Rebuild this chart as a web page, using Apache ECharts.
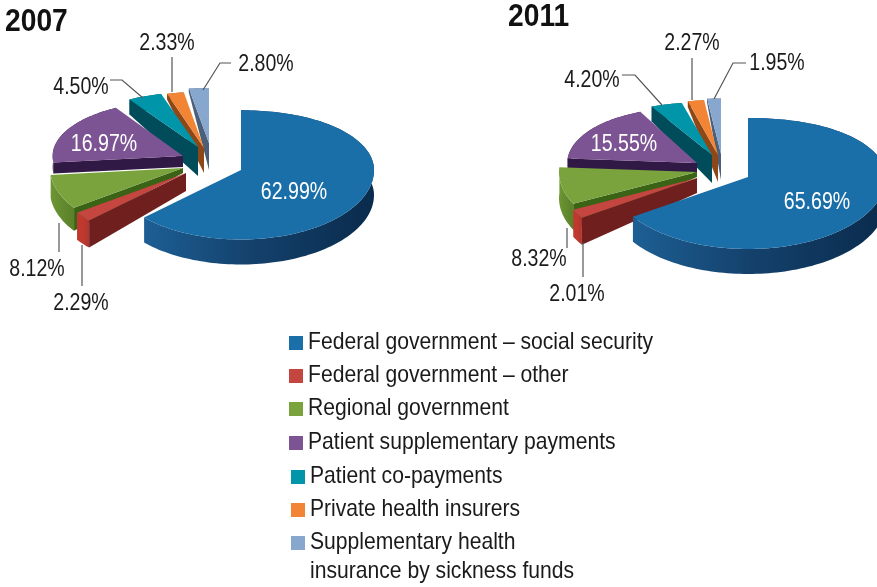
<!DOCTYPE html>
<html lang="en">
<head>
    <meta charset="UTF-8">
    <title>Health funding shares 2007 and 2011</title>
    <script src="https://cdn.jsdelivr.net/npm/echarts@6/dist/echarts.min.js"></script>
    <style>
        html, body { margin: 0; padding: 0; background: #fff; }
        #myChart { width: 877px; height: 587px; }
    </style>
</head>
<body>
    <div id="myChart"></div>
    <script>
        // values
        var categories = [
            'Federal government – social security',
            'Federal government – other',
            'Regional government',
            'Patient supplementary payments',
            'Patient co-payments',
            'Private health insurers',
            'Supplementary health\ninsurance by sickness funds'
        ];
        var shares2007 = [62.99, 2.29, 8.12, 16.97, 4.50, 2.33, 2.80];
        var shares2011 = [65.69, 2.01, 8.32, 15.55, 4.20, 2.27, 1.95];

        // colours per category
        var topColors = ['#1b6fa9', '#c54541', '#7aa33d', '#7c5493', '#0095a8', '#f28535', '#87a7cf'];
        var wallColors = ['#14426d', '#6e1f1e', '#3a6315', '#301a45', '#004c5a', '#8e4716', '#4c5f78'];
        var rimColors = [
            ['#1d5f94', '#14426d', '#0a2b4c'], ['#c0392f', '#c0392f', '#b03530'], ['#6d9633', '#648c2f', '#5a8029'],
            ['#321b47', '#321b47', '#321b47'], ['#006070', '#006070', '#006070'], ['#a35520', '#a35520', '#a35520'], ['#5d7395', '#5d7395', '#5d7395']
        ];

        // layout of each exploded pie (tips, wall heights, label spots, leader lines)
        var layout2007 = {
            rx: 133, ry: 69.5, k: 0.14,
            tips: [[241, 170], [186, 173], [183, 168], [183, 156], [198, 147], [204, 148], [209, 143]],
            scaleX: [1, 1, 1, 0.98, 1, 1, 1],
            scaleY: [1, 1, 1, 0.93, 0.92, 0.94, 0.92],
            depthTip: [25, 18, 5, 11, 29, 25, 27],
            depthRim: [25, 27, 23, 11, 15, 6, 4],
            labels: [[294, 193], [81, 304], [37, 270], [104, 145], [81, 88], [167, 44], [266, 65]],
            lines: [null, [[82, 245], [82, 286]], [[59, 223], [59, 252]], null,
                [[110, 80], [122, 80], [143, 98]], [[172, 57], [172, 92]], [[231, 63], [220, 63], [203, 90]]]
        };
        var layout2011 = {
            rx: 138, ry: 72, k: 0.18,
            tips: [[748, 177], [697, 178], [697, 172], [697, 163], [712, 155], [718, 155], [721, 154]],
            scaleX: [1, 1, 1, 0.94, 1, 1, 1],
            scaleY: [1, 1, 1, 0.95, 0.90, 0.93, 0.94],
            depthTip: [25, 15, 5, 10, 28, 27, 26],
            depthRim: [25, 27, 26, 10, 15, 6, 4],
            labels: [[817, 203], [577, 295], [539, 260], [624, 145], [592, 81], [692, 44], [777, 64]],
            lines: [null, [[583, 242], [583, 277]], [[567, 228], [567, 248]], null,
                [[622, 75], [635, 75], [662, 105]], [[692, 58], [692, 100]], [[746, 63], [733, 63], [714, 99]]]
        };

        var fontName = '"Liberation Sans", sans-serif';
        var whiteLabels = [0, 3];

        function rimPoint(tip, angle, lay, sx, sy) {
            var c = Math.cos(angle), s = Math.sin(angle);
            var up = Math.max(c, 0);
            var shrink = 1 - lay.k * up * up;
            return [tip[0] + lay.rx * s * shrink * sx, tip[1] - lay.ry * c * shrink * sy];
        }

        function pieRenderer(shares, lay) {
            var total = shares.reduce(function (a, b) { return a + b; }, 0);
            return function (params, api) {
                var i = params.dataIndex;
                var before = 0;
                for (var j = 0; j < i; j++) before += shares[j];
                var a0 = before / total * Math.PI * 2;
                var a1 = (before + api.value(0)) / total * Math.PI * 2;
                var tip = lay.tips[i];
                var dTip = lay.depthTip[i], dRim = lay.depthRim[i];

                var rim = [];
                var steps = Math.max(2, Math.ceil((a1 - a0) / 0.03));
                for (var n = 0; n <= steps; n++) {
                    rim.push(rimPoint(tip, a0 + (a1 - a0) * n / steps, lay, lay.scaleX[i], lay.scaleY[i]));
                }
                var lower = rim.map(function (p) { return [p[0], p[1] + dRim]; }).reverse();
                var base = (7 - i) * 10;

                var rc = rimColors[i];
                var children = [
                    { type: 'polygon', z2: base, shape: { points: rim.concat(lower) },
                      style: { fill: new echarts.graphic.LinearGradient(0, 0, 1, 0, [
                          { offset: 0, color: rc[0] }, { offset: 0.45, color: rc[1] }, { offset: 1, color: rc[2] }
                      ]) } },
                    { type: 'polygon', z2: base + 1,
                      shape: { points: [tip, rim[0], [rim[0][0], rim[0][1] + dRim], [tip[0], tip[1] + dTip]] },
                      style: { fill: wallColors[i] } },
                    { type: 'polygon', z2: base + 2, shape: { points: [tip].concat(rim) },
                      style: { fill: topColors[i] } }
                ];

                if (lay.lines[i]) {
                    children.push({ type: 'polyline', z2: 200, shape: { points: lay.lines[i] },
                        style: { stroke: '#555', lineWidth: 1.2, fill: null } });
                }
                children.push({ type: 'text', z2: 300,
                    x: lay.labels[i][0], y: lay.labels[i][1], scaleX: 0.85,
                    style: {
                        text: api.value(0).toFixed(2) + '%',
                        align: 'center', verticalAlign: 'middle', font: '23px ' + fontName,
                        fill: whiteLabels.indexOf(i) >= 0 ? '#fff' : '#1a1a1a'
                    } });
                return { type: 'group', children: children };
            };
        }

        // legend rows, the titles go in the same graphic list
        var legendSwatchX = [289, 289, 289, 289, 291, 291, 291];
        var legendSwatchY = [336, 369, 402, 436, 470, 503, 536];
        var legendTextX = [308, 308, 308, 308, 310, 310, 310];
        var graphicElements = [
            { type: 'text', x: 5, y: 22, scaleX: 0.91,
              style: { text: '2007', font: 'bold 31px ' + fontName, fill: '#111', verticalAlign: 'middle' } },
            { type: 'text', x: 508, y: 17, scaleX: 0.91,
              style: { text: '2011', font: 'bold 31px ' + fontName, fill: '#111', verticalAlign: 'middle' } }
        ];
        categories.forEach(function (name, i) {
            graphicElements.push({ type: 'rect', x: legendSwatchX[i], y: legendSwatchY[i],
                shape: { width: 14, height: 14 }, style: { fill: topColors[i] } });
            graphicElements.push({ type: 'text', x: legendTextX[i], y: legendSwatchY[i] - 8, scaleX: 0.88,
                style: { text: name, font: '24px ' + fontName, fill: '#1a1a1a', lineHeight: 29 } });
        });

        var myChart = echarts.init(document.getElementById('myChart'));
        var option = {
            backgroundColor: '#fff',
            animation: false,
            graphic: graphicElements,
            series: [
                { type: 'custom', name: '2007', coordinateSystem: 'none', silent: true,
                  renderItem: pieRenderer(shares2007, layout2007), data: shares2007 },
                { type: 'custom', name: '2011', coordinateSystem: 'none', silent: true,
                  renderItem: pieRenderer(shares2011, layout2011), data: shares2011 }
            ]
        };
        myChart.setOption(option);
    </script>
</body>
</html>
